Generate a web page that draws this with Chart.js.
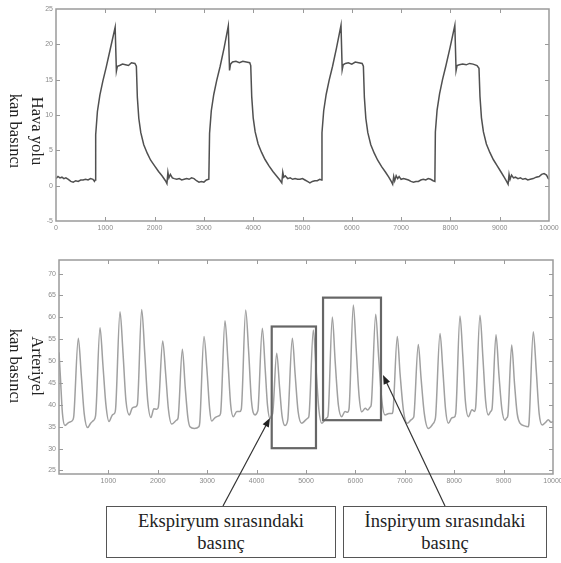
<!DOCTYPE html>
<html>
<head>
<meta charset="utf-8">
<script src="https://cdn.jsdelivr.net/npm/chart.js@4/dist/chart.umd.min.js"></script>
<style>
  html, body { margin: 0; padding: 0; background: #fff; }
  #wrap { position: relative; width: 561px; height: 563px; overflow: hidden; background: #fff; }
  canvas { position: absolute; left: 0; }
  #c1 { top: 0; }
  #c2 { top: 245px; }
  .ytitle { position: absolute; font-family: 'Liberation Serif', 'Times New Roman', serif; font-size: 16.5px;
            color: #222; text-align: center; white-space: nowrap; transform: rotate(90deg); transform-origin: center center;
            width: 120px; height: 44px; line-height: 22px; }
  .note { position: absolute; box-sizing: border-box; border: 1.5px solid #555; background: #fff;
          font-family: 'Liberation Serif', 'Times New Roman', serif; font-size: 18.5px; line-height: 22px; color: #222;
          text-align: center; display: flex; flex-direction: column; justify-content: center; }
</style>
</head>
<body>
<div id="wrap">
  <canvas id="c1" width="561" height="245"></canvas>
  <canvas id="c2" width="561" height="318"></canvas>
  <div class="ytitle" id="t1" style="left:-34px; top:109px;">Hava yolu<br>kan basıncı</div>
  <div class="ytitle" id="t2" style="left:-34px; top:344px;">Arteriyel<br>kan basıncı</div>
  <div class="note" style="left:106px; top:506px; width:230px; height:52px;">Ekspiryum sırasındaki<br>basınç</div>
  <div class="note" style="left:343px; top:506px; width:204px; height:52px;">İnspiryum sırasındaki<br>basınç</div>
</div>
<script>
// ---------------- DATA ----------------
const airwayTime = [
  0,40,80,120,160,200,250,300,350,400,450,500,550,600,650,700,750,780,795,
  805,840,890,950,1020,1100,1200,
  1225,1245,1290,1350,1410,1470,1530,1600,1630,
  1650,1680,1720,1780,1850,1920,2000,2080,2150,2220,2250,
  2270,2290,2320,2360,2400,2450,2500,2550,2600,2650,2700,2750,2800,2850,2900,2950,3000,3050,3100,
  3115,3150,3200,3260,3330,3410,3495,
  3520,3540,3580,3650,3720,3790,3860,3930,3950,
  3970,4000,4040,4100,4170,4240,4320,4400,4470,4540,4580,
  4600,4620,4650,4700,4750,4800,4850,4900,4950,5000,5050,5100,5150,5200,5250,5300,5350,5385,
  5395,5430,5480,5540,5610,5690,5781,
  5805,5825,5870,5930,6000,6070,6140,6210,6235,
  6255,6285,6325,6385,6455,6525,6605,6685,6750,6800,6829,
  6850,6870,6900,6930,6960,7000,7050,7100,7150,7200,7250,7300,7350,7400,7450,7500,7550,7600,7650,7685,
  7695,7730,7780,7840,7910,7995,8090,
  8115,8135,8180,8250,8320,8390,8460,8540,8580,
  8600,8630,8670,8730,8800,8870,8950,9030,9090,9140,9170,
  9190,9210,9240,9280,9320,9370,9420,9470,9520,9570,9620,9680,9740,9800,9850,9900,9950,9985,10000
];
const airwayPressure = [
  1.0,1.3,1.1,1.2,1.0,1.1,0.9,0.6,0.5,0.7,0.6,0.8,0.8,0.9,0.8,1.0,0.9,0.6,0.8,
  7.2,10.5,12.8,14.8,16.8,19.3,22.4,
  16.2,16.9,17.0,17.2,17.1,17.0,17.4,17.3,16.9,
  12.5,9.5,7.5,5.8,4.6,3.6,2.8,2.0,1.4,0.7,0.3,
  1.9,1.1,1.6,1.1,1.0,0.9,1.0,0.8,0.9,1.0,0.9,1.1,1.0,0.7,0.5,0.6,0.5,0.8,0.9,
  7.4,10.6,12.9,14.9,16.9,19.5,22.6,
  16.3,17.2,17.5,17.6,17.4,17.6,17.5,17.4,17.0,
  12.6,9.6,7.6,5.9,4.7,3.7,2.8,2.0,1.4,0.8,0.4,
  1.9,1.2,1.4,1.0,1.1,0.9,1.0,0.9,0.9,1.0,0.8,0.6,0.4,0.6,0.7,0.7,0.9,0.8,
  7.5,10.6,12.9,14.9,16.9,19.5,22.7,
  16.4,17.1,17.3,17.4,17.2,17.5,17.4,17.3,16.9,
  12.5,9.5,7.5,5.8,4.6,3.6,2.7,1.9,1.2,0.6,0.2,
  1.3,0.7,1.4,1.0,1.3,0.9,1.0,0.9,0.8,0.6,0.5,0.6,0.6,0.8,0.9,0.8,1.0,0.9,0.7,0.6,
  7.6,10.7,13.0,15.0,17.0,19.6,22.7,
  16.3,17.0,17.1,17.2,17.1,17.3,17.2,17.0,16.6,
  12.6,9.6,7.6,5.9,4.7,3.7,2.8,1.9,1.2,0.6,0.2,
  1.6,0.9,1.5,1.1,1.2,1.0,1.1,0.9,1.0,0.8,0.9,1.0,1.2,1.3,1.6,1.7,1.5,1.0,0.9
];
const arterialTime = [
  0,30,70,121,200,283,300,391,450,510,
  581,640,695,740,830,890,950,
  1012,1080,1120,1145,1235,1295,1355,
  1424,1480,1540,1585,1674,1735,1795,
  1862,1920,1980,2010,2099,2160,2215,
  2281,2380,2410,2497,2555,2610,
  2652,2740,2830,2850,2935,2995,3050,
  3090,3160,3240,3270,3360,3420,3475,
  3529,3600,3660,3690,3779,3840,3895,
  3968,4020,4030,4116,4175,4220,
  4271,4300,4325,4407,4465,4515,
  4575,4620,4635,4723,4780,4840,
  4913,4990,5040,5060,5148,5205,5260,
  5318,5380,5420,5445,5533,5590,5655,
  5723,5790,5840,5870,5958,6015,6075,
  6128,6200,6250,6300,6320,6411,6470,6535,
  6599,6680,6740,6760,6848,6905,6975,
  7050,7120,7170,7185,7273,7330,7395,
  7476,7560,7610,7625,7713,7770,7825,
  7881,7950,8000,8030,8117,8175,8225,
  8286,8360,8410,8435,8522,8580,8635,
  8690,8740,8765,8846,8905,8965,
  9028,9060,9085,9164,9220,9275,
  9332,9420,9500,9515,9601,9660,9720,
  9783,9850,9905,9960,10000
];
const arterialPressure = [
  52,46,38,35.3,36.0,36.6,37.5,55.2,47,38,
  34.8,35.8,36.4,37.5,57.6,49,40,
  36.2,37.7,38,39,61.3,52,41,
  37.7,39.2,39.5,40,61.8,52,41,
  37.1,39.1,39,39.5,54.6,47,39,
  35.6,36.5,37,52.7,44,37,
  35.0,34.6,35,36,55.6,48,39,
  36.3,37.1,37.5,38,59.2,50,40,
  37.3,38.5,38.5,39,61.7,52,41,
  37.7,38.5,39,57.5,48,40,
  36.9,37.5,38,51.8,44,37.5,
  35.3,36,37,55.2,47,38.5,
  35.8,36.5,37,37.5,57.1,48,39,
  35.8,36.5,37,37.5,60.1,50,40,
  37.3,38.5,38.3,39,62.8,53,42,
  38.4,39.2,38.8,39.5,40,60.7,51,41,
  37.7,38,38,38.5,55.6,47,38.5,
  35.8,36.5,37,37.5,53.8,46,38,
  34.6,35.5,36.5,37.5,56.3,48,39,
  35.8,37,37.2,38,60.3,51,41,
  37.3,38.9,38.5,39.5,60.5,51,41,
  37.7,38.5,39,56.0,47,39,
  36.5,37,37.5,53.7,45,38,
  35.8,35.2,35,36,56.7,48,38,
  35.4,36,36.6,36,36.2
];
// Highlighted regions (data units) and arrow tips (data units)
const expiryBox = { xMin: 4306, xMax: 5202, yMin: 30.1, yMax: 57.9 };
const inspiryBox = { xMin: 5345, xMax: 6518, yMin: 36.5, yMax: 64.5 };
const expiryArrowTip = { x: 4271, y: 37.0 };
const inspiryArrowTip = { x: 6559, y: 46.8 };

// ---------------- HELPERS ----------------
const toPoints = (xs, ys) => xs.map((x, i) => ({ x, y: ys[i] }));
const tickFont = { family: "Liberation Sans, Arial, sans-serif", size: 7 };
const tickColor = '#8a8a8a';

const framePlugin = {
  id: 'frame',
  afterDatasetsDraw(chart) {
    const { ctx, chartArea: a, scales: { x, y } } = chart;
    ctx.save();
    ctx.strokeStyle = '#9a9a9a';
    ctx.lineWidth = 1.5;
    ctx.strokeRect(a.left, a.top, a.right - a.left, a.bottom - a.top);
    ctx.lineWidth = 1;
    ctx.beginPath();
    x.ticks.forEach(t => {
      const px = Math.round(x.getPixelForValue(t.value)) + 0.5;
      if (px < a.left + 1 || px > a.right - 1) return;
      ctx.moveTo(px, a.bottom); ctx.lineTo(px, a.bottom - 4);
      ctx.moveTo(px, a.top); ctx.lineTo(px, a.top + 4);
    });
    y.ticks.forEach(t => {
      const py = Math.round(y.getPixelForValue(t.value)) + 0.5;
      if (py < a.top + 1 || py > a.bottom - 1) return;
      ctx.moveTo(a.left, py); ctx.lineTo(a.left + 4, py);
      ctx.moveTo(a.right, py); ctx.lineTo(a.right - 4, py);
    });
    ctx.stroke();
    ctx.restore();
  }
};

function arrow(ctx, x0, y0, x1, y1) {
  const ang = Math.atan2(y1 - y0, x1 - x0);
  const len = 9, half = 3.5;
  ctx.beginPath();
  ctx.moveTo(x0, y0);
  ctx.lineTo(x1 - Math.cos(ang) * len * 0.8, y1 - Math.sin(ang) * len * 0.8);
  ctx.stroke();
  ctx.beginPath();
  ctx.moveTo(x1, y1);
  ctx.lineTo(x1 - Math.cos(ang) * len - Math.sin(ang) * half, y1 - Math.sin(ang) * len + Math.cos(ang) * half);
  ctx.lineTo(x1 - Math.cos(ang) * len + Math.sin(ang) * half, y1 - Math.sin(ang) * len - Math.cos(ang) * half);
  ctx.closePath();
  ctx.fill();
}

const annotationPlugin = {
  id: 'notes',
  afterDraw(chart) {
    const { ctx, scales: { x, y } } = chart;
    ctx.save();
    ctx.strokeStyle = '#666';
    ctx.lineWidth = 2.2;
    [expiryBox, inspiryBox].forEach(b => {
      const l = x.getPixelForValue(b.xMin), r = x.getPixelForValue(b.xMax);
      const t = y.getPixelForValue(b.yMax), bt = y.getPixelForValue(b.yMin);
      ctx.strokeRect(l, t, r - l, bt - t);
    });
    // arrows from note boxes (page y=506 -> canvas y=261)
    ctx.strokeStyle = '#333';
    ctx.fillStyle = '#222';
    ctx.lineWidth = 1.2;
    arrow(ctx, 223, 261, x.getPixelForValue(expiryArrowTip.x), y.getPixelForValue(expiryArrowTip.y));
    arrow(ctx, 445, 261, x.getPixelForValue(inspiryArrowTip.x), y.getPixelForValue(inspiryArrowTip.y));
    ctx.restore();
  }
};

function makeScales(xCallback, yOpts, xHeight, yWidth) {
  return {
    x: {
      type: 'linear', min: 0, max: 10000,
      grid: { display: false, drawTicks: false }, border: { display: false },
      ticks: { stepSize: 1000, padding: 3, font: tickFont, color: tickColor, maxRotation: 0, autoSkip: false, callback: xCallback },
      afterFit: s => { s.height = xHeight; s.paddingLeft = 0; s.paddingRight = 0; }
    },
    y: Object.assign({
      grid: { display: false, drawTicks: false }, border: { display: false },
      afterFit: s => { s.width = yWidth; s.paddingTop = 0; s.paddingBottom = 0; }
    }, yOpts)
  };
}

// ---------------- TOP CHART ----------------
new Chart(document.getElementById('c1'), {
  type: 'line',
  data: { datasets: [{ data: toPoints(airwayTime, airwayPressure), borderColor: '#505050', borderWidth: 1.5, pointRadius: 0, tension: 0 }] },
  options: {
    responsive: false, animation: false, devicePixelRatio: 1,
    layout: { padding: { left: 0, right: 12, top: 9, bottom: 0 } },
    plugins: { legend: { display: false }, tooltip: { enabled: false } },
    scales: makeScales(v => String(v), {
      min: -5, max: 25,
      ticks: { stepSize: 5, padding: 3, font: tickFont, color: tickColor, includeBounds: false, callback: v => String(v) }
    }, 24, 56)
  },
  plugins: [framePlugin]
});

// ---------------- BOTTOM CHART ----------------
new Chart(document.getElementById('c2'), {
  type: 'line',
  data: { datasets: [{ data: toPoints(arterialTime, arterialPressure), borderColor: '#a0a0a0', borderWidth: 1.5, pointRadius: 0, cubicInterpolationMode: 'monotone' }] },
  options: {
    responsive: false, animation: false, devicePixelRatio: 1,
    layout: { padding: { left: 0, right: 8, top: 15, bottom: 0 } },
    plugins: { legend: { display: false }, tooltip: { enabled: false } },
    scales: makeScales(v => (v === 0 ? null : String(v)), {
      min: 24.2, max: 73.1,
      ticks: { stepSize: 5, padding: 3, font: tickFont, color: tickColor, includeBounds: false, callback: v => String(v) }
    }, 89, 59)
  },
  plugins: [framePlugin, annotationPlugin]
});
</script>
</body>
</html>
